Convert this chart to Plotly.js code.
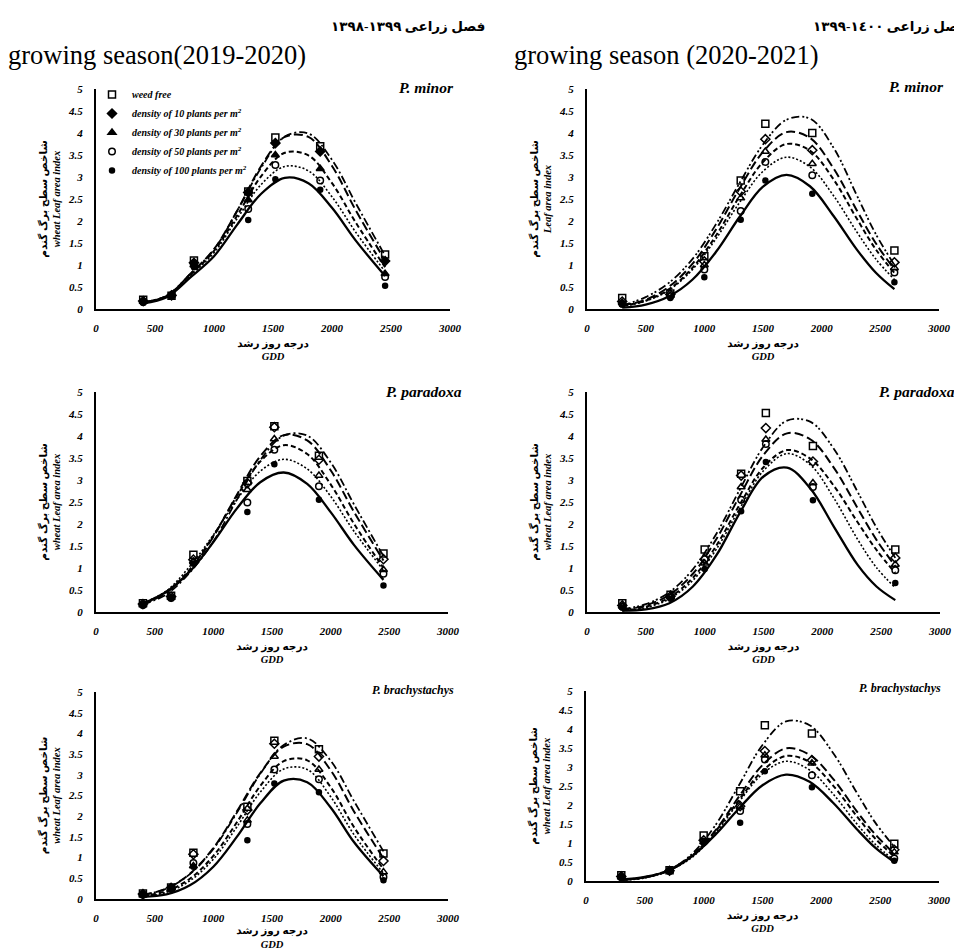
<!DOCTYPE html>
<html><head><meta charset="utf-8">
<script src="https://cdn.plot.ly/plotly-3.0.1.min.js"></script>
<style>html,body{margin:0;padding:0;background:#fff}#chart{width:954px;height:950px}</style>
</head><body><div id="chart"></div>
<script>
// ---------------- DATA ----------------
const seriesNames = ['weed free', 'density of 10 plants per m<sup>2</sup>', 'density of 30 plants per m<sup>2</sup>',
  'density of 50 plants per m<sup>2</sup>', 'density of 100 plants per m<sup>2</sup>'];
const xTicks = [0, 500, 1000, 1500, 2000, 2500, 3000];
const yTicks = [0, 0.5, 1, 1.5, 2, 2.5, 3, 3.5, 4, 4.5, 5];

// observation GDD (x) for each growing season
const obsGDD_2019 = [400, 640, 830, 1290, 1520, 1900, 2450];
const obsGDD_2020 = [300, 710, 1000, 1310, 1520, 1920, 2620];
// GDD at which the fitted curves were read
const fitGDD_2019 = [400, 600, 800, 1000, 1200, 1400, 1600, 1800, 2000, 2200, 2450];
const fitGDD_2020 = [300, 500, 700, 900, 1100, 1300, 1500, 1700, 1900, 2100, 2300, 2460, 2620];

// P. minor 2019-2020 (order: weed free, 10, 30, 50, 100)
const obs_minor_2019 = [
  [0.21, 0.30, 1.10, 2.67, 3.90, 3.70, 1.24],
  [0.18, 0.31, 1.05, 2.65, 3.77, 3.58, 1.09],
  [0.17, 0.32, 1.00, 2.48, 3.50, 3.19, 0.80],
  [0.16, 0.30, 1.00, 2.27, 3.27, 2.92, 0.73],
  [0.14, 0.30, 0.95, 2.02, 2.95, 2.71, 0.53]];
const fit_minor_2019 = [
  [0.15, 0.30, 0.80, 1.35, 2.25, 3.21, 3.92, 3.99, 3.39, 2.41, 1.21],
  [0.15, 0.30, 0.80, 1.36, 2.25, 3.25, 3.91, 3.91, 3.25, 2.25, 1.10],
  [0.15, 0.30, 0.78, 1.32, 2.14, 3.02, 3.55, 3.49, 2.86, 1.97, 0.95],
  [0.14, 0.29, 0.76, 1.28, 2.07, 2.83, 3.24, 3.14, 2.55, 1.75, 0.85],
  [0.13, 0.27, 0.72, 1.20, 1.93, 2.62, 2.98, 2.86, 2.30, 1.56, 0.75]];

// P. paradoxa 2019-2020
const obs_paradoxa_2019 = [
  [0.20, 0.37, 1.30, 2.98, 4.22, 3.55, 1.33],
  [0.18, 0.35, 1.19, 2.93, 4.20, 3.46, 1.20],
  [0.17, 0.33, 1.15, 2.78, 3.93, 3.10, 0.96],
  [0.16, 0.32, 1.12, 2.49, 3.69, 2.86, 0.87],
  [0.15, 0.32, 1.10, 2.27, 3.36, 2.55, 0.60]];
const fit_paradoxa_2019 = [
  [0.17, 0.40, 0.90, 1.60, 2.55, 3.45, 4.01, 4.01, 3.40, 2.44, 1.27],
  [0.17, 0.44, 0.94, 1.71, 2.66, 3.54, 4.02, 3.90, 3.22, 2.27, 1.17],
  [0.19, 0.46, 0.97, 1.73, 2.63, 3.42, 3.79, 3.59, 2.90, 2.00, 1.00],
  [0.20, 0.48, 1.04, 1.75, 2.55, 3.20, 3.47, 3.25, 2.63, 1.83, 0.95],
  [0.19, 0.46, 0.92, 1.59, 2.35, 2.95, 3.17, 2.91, 2.27, 1.52, 0.73]];

// P. brachystachys 2019-2020
const obs_brachy_2019 = [
  [0.13, 0.28, 1.12, 2.23, 3.82, 3.62, 1.10],
  [0.12, 0.27, 1.08, 2.15, 3.75, 3.44, 0.92],
  [0.11, 0.26, 0.80, 1.90, 3.44, 3.13, 0.65],
  [0.10, 0.25, 0.87, 1.81, 3.13, 2.89, 0.53],
  [0.10, 0.25, 0.78, 1.42, 2.79, 2.58, 0.45]];
const fit_brachy_2019 = [
  [0.10, 0.25, 0.60, 1.21, 2.08, 3.02, 3.72, 3.88, 3.34, 2.36, 1.15],
  [0.10, 0.25, 0.61, 1.23, 2.11, 3.04, 3.68, 3.74, 3.11, 2.11, 0.98],
  [0.08, 0.19, 0.49, 1.04, 1.85, 2.73, 3.33, 3.35, 2.70, 1.73, 0.72],
  [0.07, 0.16, 0.44, 0.96, 1.74, 2.58, 3.14, 3.13, 2.47, 1.55, 0.62],
  [0.05, 0.11, 0.33, 0.78, 1.50, 2.31, 2.86, 2.82, 2.21, 1.37, 0.55]];

// P. minor 2020-2021
const obs_minor_2020 = [
  [0.25, 0.35, 1.20, 2.92, 4.21, 4.00, 1.33],
  [0.17, 0.33, 1.08, 2.67, 3.86, 3.61, 1.06],
  [0.15, 0.31, 1.00, 2.52, 3.58, 3.30, 0.93],
  [0.12, 0.29, 0.90, 2.23, 3.34, 3.04, 0.83],
  [0.10, 0.25, 0.72, 2.03, 2.92, 2.62, 0.61]];
const fit_minor_2020 = [
  [0.08, 0.27, 0.60, 1.14, 1.93, 2.86, 3.74, 4.30, 4.33, 3.67, 2.58, 1.71, 1.00],
  [0.08, 0.21, 0.51, 1.03, 1.81, 2.74, 3.57, 4.02, 3.89, 3.20, 2.24, 1.50, 0.90],
  [0.07, 0.19, 0.45, 0.94, 1.67, 2.56, 3.34, 3.75, 3.60, 2.95, 2.05, 1.36, 0.82],
  [0.06, 0.18, 0.43, 0.90, 1.60, 2.42, 3.13, 3.45, 3.23, 2.58, 1.75, 1.14, 0.67],
  [0.03, 0.10, 0.29, 0.67, 1.30, 2.09, 2.78, 3.05, 2.79, 2.12, 1.35, 0.83, 0.45]];

// P. paradoxa 2020-2021
const obs_paradoxa_2020 = [
  [0.20, 0.39, 1.42, 3.14, 4.52, 3.77, 1.42],
  [0.15, 0.36, 1.20, 3.10, 4.18, 3.42, 1.23],
  [0.13, 0.34, 1.11, 2.84, 3.92, 2.93, 1.08],
  [0.12, 0.33, 1.20, 2.55, 3.82, 2.84, 0.95],
  [0.10, 0.30, 0.98, 2.29, 3.41, 2.54, 0.66]];
const fit_paradoxa_2020 = [
  [0.06, 0.18, 0.45, 0.97, 1.78, 2.79, 3.76, 4.35, 4.32, 3.70, 2.73, 1.92, 1.23],
  [0.05, 0.15, 0.39, 0.87, 1.66, 2.65, 3.57, 4.06, 3.92, 3.27, 2.36, 1.64, 1.04],
  [0.03, 0.12, 0.33, 0.78, 1.51, 2.45, 3.29, 3.68, 3.48, 2.86, 2.04, 1.41, 0.89],
  [0.03, 0.10, 0.30, 0.72, 1.43, 2.36, 3.21, 3.60, 3.34, 2.58, 1.65, 1.01, 0.55],
  [0.03, 0.06, 0.20, 0.58, 1.29, 2.26, 3.08, 3.28, 2.80, 1.93, 1.07, 0.58, 0.27]];

// P. brachystachys 2020-2021
const obs_brachy_2020 = [
  [0.15, 0.28, 1.20, 2.36, 4.10, 3.88, 0.98],
  [0.12, 0.27, 1.07, 1.97, 3.42, 3.18, 0.82],
  [0.11, 0.27, 1.03, 1.95, 3.31, 3.10, 0.76],
  [0.10, 0.26, 1.03, 1.84, 3.20, 2.78, 0.59],
  [0.10, 0.26, 1.00, 1.53, 2.89, 2.47, 0.53]];
const fit_brachy_2020 = [
  [0.03, 0.09, 0.28, 0.71, 1.47, 2.52, 3.58, 4.20, 4.10, 3.37, 2.33, 1.53, 0.90],
  [0.03, 0.09, 0.27, 0.66, 1.33, 2.22, 3.05, 3.49, 3.32, 2.69, 1.84, 1.22, 0.72],
  [0.03, 0.10, 0.29, 0.67, 1.31, 2.13, 2.90, 3.29, 3.13, 2.51, 1.71, 1.11, 0.65],
  [0.02, 0.08, 0.27, 0.62, 1.26, 2.08, 2.82, 3.15, 2.92, 2.29, 1.51, 0.96, 0.55],
  [0.04, 0.11, 0.27, 0.65, 1.22, 1.91, 2.52, 2.80, 2.61, 2.06, 1.37, 0.87, 0.50]];

// ---------------- STYLE ----------------
const W = 954, H = 950;
const serif = 'Liberation Serif, Times New Roman, DejaVu Serif, serif';
const arabicFont = 'Liberation Serif, DejaVu Serif, DejaVu Sans, serif';
const dashLeft = ['8px,3px,2px,3px', '9px,4px', '5px,3px', '2px,2px', 'solid'];
const dashRight = ['8px,3px,2px,2px,2px,3px', '9px,4px', '5px,3px', '2px,2px', 'solid'];
const lineW = [1.8, 2, 2, 1.6, 2.3];
const symFilled = ['square-open', 'diamond', 'triangle-up', 'circle-open', 'circle'];
const symOpen = ['square-open', 'diamond-open', 'triangle-up-open', 'circle-open', 'circle'];
const symSize = [7, 7, 7, 6.5, 5];

// pixel boxes: [left, right, top(y=5), bottom(y=0)]
const panels = [
  {box: [96, 450, 89, 309], obsX: obsGDD_2019, fitX: fitGDD_2019, obs: obs_minor_2019, fit: fit_minor_2019, dash: dashLeft, sym: symFilled, legend: true,
   ytitle: 'شاخص سطح برگ گندم<br><i>wheat Leaf area index</i>'},
  {box: [587, 939, 89, 309], obsX: obsGDD_2020, fitX: fitGDD_2020, obs: obs_minor_2020, fit: fit_minor_2020, dash: dashRight, sym: symOpen, legend: false,
   ytitle: 'شاخص سطح برگ گندم<br><i>Leaf area index</i>'},
  {box: [96, 448, 392, 612], obsX: obsGDD_2019, fitX: fitGDD_2019, obs: obs_paradoxa_2019, fit: fit_paradoxa_2019, dash: dashLeft, sym: symOpen, legend: false,
   ytitle: 'شاخص سطح برگ گندم<br><i>wheat Leaf area index</i>'},
  {box: [587, 940, 392, 612], obsX: obsGDD_2020, fitX: fitGDD_2020, obs: obs_paradoxa_2020, fit: fit_paradoxa_2020, dash: dashRight, sym: symOpen, legend: false,
   ytitle: 'شاخص سطح برگ گندم<br><i>wheat Leaf area index</i>'},
  {box: [96, 448, 692, 899], obsX: obsGDD_2019, fitX: fitGDD_2019, obs: obs_brachy_2019, fit: fit_brachy_2019, dash: dashLeft, sym: symOpen, legend: false,
   ytitle: 'شاخص سطح برگ گندم<br><i>wheat Leaf area index</i>'},
  {box: [586, 939, 691, 881], obsX: obsGDD_2020, fitX: fitGDD_2020, obs: obs_brachy_2020, fit: fit_brachy_2020, dash: dashRight, sym: symOpen, legend: false,
   ytitle: 'شاخص سطح برگ گندم<br><i>wheat Leaf area index</i>'}
];

const traces = [];
const layout = {
  width: W, height: H, autosize: false,
  margin: {l: 0, r: 0, t: 0, b: 0, pad: 0},
  paper_bgcolor: '#ffffff', plot_bgcolor: 'rgba(0,0,0,0)',
  showlegend: true,
  legend: {x: 92 / W, y: 1 - 80 / H, xanchor: 'left', yanchor: 'top', bgcolor: 'rgba(0,0,0,0)',
    font: {family: serif, size: 10, color: '#000', weight: 'bold', style: 'italic'},
    itemwidth: 30, tracegroupgap: 0},
  annotations: [], font: {family: serif, color: '#000'}
};

panels.forEach((p, i) => {
  const n = i + 1;
  const xa = n === 1 ? 'x' : 'x' + n, ya = n === 1 ? 'y' : 'y' + n;
  const xk = n === 1 ? 'xaxis' : 'xaxis' + n, yk = n === 1 ? 'yaxis' : 'yaxis' + n;
  const [l, r, t, b] = p.box;
  const titleFont = {family: arabicFont, size: 10.5, color: '#000', weight: 'bold'};
  layout[xk] = {domain: [l / W, r / W], anchor: ya, range: [0, 3000], tickvals: xTicks,
    showgrid: false, zeroline: false, showline: true, linecolor: '#000', linewidth: 2, ticks: '',
    ticklabelstandoff: 8, fixedrange: true,
    tickfont: {family: serif, size: 11, color: '#000', weight: 'bold', style: 'italic'},
    title: {text: 'درجه روز رشد<br><i>GDD</i>', font: titleFont, standoff: 6}};
  layout[yk] = {domain: [1 - b / H, 1 - t / H], anchor: xa, range: [0, 5], tickvals: yTicks,
    showgrid: false, zeroline: false, showline: true, linecolor: '#000', linewidth: 2, ticks: '',
    ticklabelstandoff: 9, fixedrange: true,
    tickfont: {family: serif, size: 11, color: '#000', weight: 'bold', style: 'italic'},
    title: {text: p.ytitle, font: titleFont, standoff: 5}};
  for (let s = 0; s < 5; s++) {
    traces.push({type: 'scatter', mode: 'lines', x: p.fitX, y: p.fit[s], xaxis: xa, yaxis: ya,
      line: {color: '#000', width: lineW[s], dash: p.dash[s], shape: 'spline', smoothing: 1},
      showlegend: false, hoverinfo: 'skip'});
  }
  for (let s = 0; s < 5; s++) {
    traces.push({type: 'scatter', mode: 'markers', x: p.obsX, y: p.obs[s], xaxis: xa, yaxis: ya,
      name: seriesNames[s], showlegend: p.legend, cliponaxis: false,
      marker: {symbol: p.sym[s], size: symSize[s], color: '#000', line: {color: '#000', width: 1.5}}});
  }
});

function ann(text, px, py, xanchor, size, extra) {
  layout.annotations.push(Object.assign({text: text, xref: 'paper', yref: 'paper', x: px / W, y: 1 - py / H,
    xanchor: xanchor, yanchor: 'middle', showarrow: false,
    font: {family: serif, size: size, color: '#000'}}, extra || {}));
}
ann('growing season(2019-2020)', 6, 55, 'left', 26.5);
ann('growing season (2020-2021)', 512, 55, 'left', 26.5);
const faFont = {family: arabicFont, size: 13.5, color: '#000', weight: 'bold'};
ann('فصل زراعی ١٣٩٩-١٣٩٨', 487, 26, 'right', 13.5, {font: faFont});
ann('فصل زراعی ١٤٠٠-١٣٩٩', 811, 26, 'left', 13.5, {font: faFont});
const labFont = (sz) => ({family: serif, size: sz, color: '#000', weight: 'bold', style: 'italic'});
ann('P. minor', 456, 88, 'right', 15.5, {font: labFont(15.5)});
ann('P. minor', 946, 86, 'right', 15.5, {font: labFont(15.5)});
ann('P. paradoxa', 464, 391, 'right', 15.5, {font: labFont(15.5)});
ann('P. paradoxa', 877, 391, 'left', 15.5, {font: labFont(15.5)});
ann('P. brachystachys', 456, 690, 'right', 12, {font: labFont(12)});
ann('P. brachystachys', 943, 688, 'right', 12, {font: labFont(12)});

Plotly.newPlot('chart', traces, layout, {displayModeBar: false, staticPlot: true});
</script></body></html>
